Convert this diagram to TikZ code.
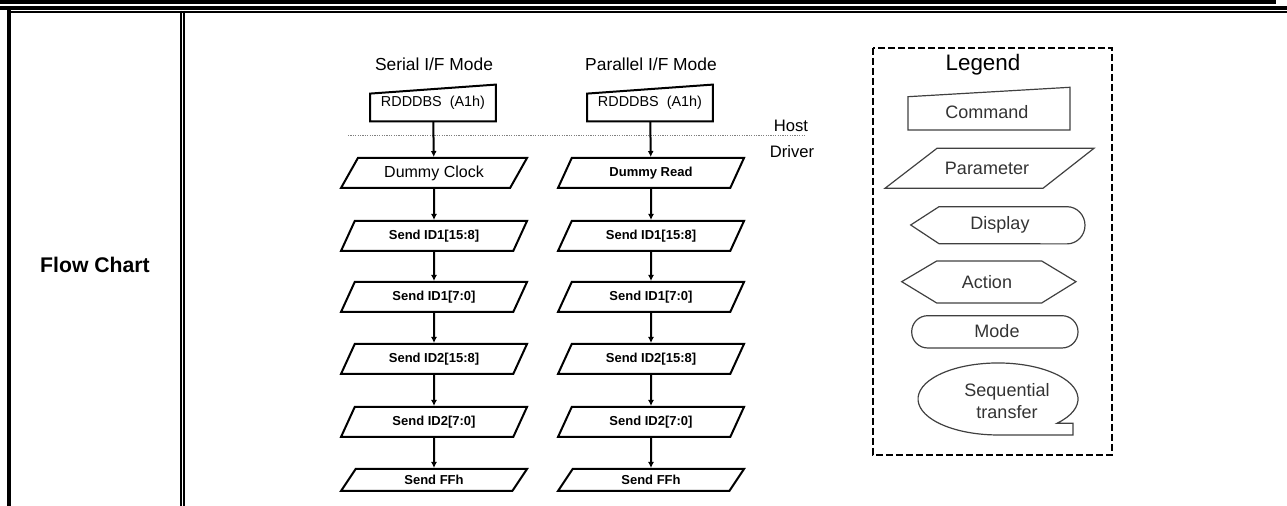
\documentclass[tikz,border=0pt]{standalone}
\usepackage{fontspec}
\setmainfont{Liberation Sans}
\usetikzlibrary{shapes.geometric}
\usetikzlibrary{arrows.meta}

\begin{document}
\begin{tikzpicture}[x=0.5pt, y=-0.5pt, >={Latex[length=3pt,width=3pt]},
  hdr/.style={font=\fontsize{8.7}{10}\selectfont, inner sep=0pt},
  cmd/.style={minimum width=62.5pt, minimum height=18pt, inner sep=0pt,
              font=\fontsize{7.2}{8}\selectfont},
  cmdline/.style={draw=black, line width=1pt},
  param/.style={trapezium, draw=black, line width=1pt,
                trapezium left angle=41.4, trapezium right angle=138.6,
                trapezium stretches body, minimum width=93pt,
                minimum height=15pt, inner sep=0pt,
                font=\bfseries\fontsize{6.5}{7}\selectfont},
  flow/.style={->, line width=1pt},
  legline/.style={draw=black!75, line width=0.6pt},
  legtext/.style={font=\fontsize{9}{11}\selectfont, text=black!80,
                  align=center, inner sep=0pt}]
  \useasboundingbox (0,0) rectangle (1287,506);
  % table frame: heavy top rules, left rule, double column rule
  \fill[black] (0,0) rectangle (1276,4);
  \draw[line width=2pt] (0,8) -- (1287,8);
  \draw[line width=0.85pt] (9,11.9) -- (1287,11.9);
  \draw[line width=1.75pt] (9,10) -- (9,506);
  \draw[line width=0.8pt] (181,11) -- (181,506);
  \draw[line width=0.8pt] (184,11) -- (184,506);
  \node[font=\bfseries\fontsize{10.6}{12}\selectfont, inner sep=0pt]
    (fc) at (95,265) {Flow Chart};
  % column titles
  \node[hdr] (serT) at (434,64) {Serial I/F Mode};
  \node[hdr] (parT) at (651,64) {Parallel I/F Mode};
  % commands
  \node[cmd] (cmdS) at (433,103) {RDDDBS\ \ (A1h)};
  \node[cmd] (cmdP) at (650,103) {RDDDBS\ \ (A1h)};
  \draw[cmdline] (cmdS.south west) -- ([yshift=-4.5pt]cmdS.north west)
    -- (cmdS.north east) -- (cmdS.south east) -- cycle;
  \draw[cmdline] (cmdP.south west) -- ([yshift=-4.5pt]cmdP.north west)
    -- (cmdP.north east) -- (cmdP.south east) -- cycle;
  % host / driver border
  \draw[gray, line width=0.5pt, dash pattern=on 0.6pt off 0.6pt]
    (348,135.7) -- (806,135.7);
  \node[font=\fontsize{8.3}{9}\selectfont, inner sep=0pt] (host) at (791,126) {Host};
  \node[font=\fontsize{8.3}{9}\selectfont, inner sep=0pt] (drv) at (792,152) {Driver};
  % serial column
  \node[param, font=\fontsize{8}{9}\selectfont] (dcS) at (434,173) {Dummy Clock};
  \node[param] (a1S) at (434,236) {Send ID1[15:8]};
  \node[param] (b1S) at (434,297) {Send ID1[7:0]};
  \node[param] (a2S) at (434,359) {Send ID2[15:8]};
  \node[param] (b2S) at (434,422) {Send ID2[7:0]};
  \node[param, minimum height=11pt, trapezium left angle=33,
        trapezium right angle=147] (ffS) at (434,480) {Send FFh};
  % parallel column
  \node[param] (drP) at (651,173) {Dummy Read};
  \node[param] (a1P) at (651,236) {Send ID1[15:8]};
  \node[param] (b1P) at (651,297) {Send ID1[7:0]};
  \node[param] (a2P) at (651,359) {Send ID2[15:8]};
  \node[param] (b2P) at (651,422) {Send ID2[7:0]};
  \node[param, minimum height=11pt, trapezium left angle=33,
        trapezium right angle=147] (ffP) at (651,480) {Send FFh};
  % sequence arrows
  \draw[flow] (cmdS) -- (dcS);
  \draw[flow] (dcS) -- (a1S);
  \draw[flow] (a1S) -- (b1S);
  \draw[flow] (b1S) -- (a2S);
  \draw[flow] (a2S) -- (b2S);
  \draw[flow] (b2S) -- (ffS);
  \draw[flow] (cmdP) -- (drP);
  \draw[flow] (drP) -- (a1P);
  \draw[flow] (a1P) -- (b1P);
  \draw[flow] (b1P) -- (a2P);
  \draw[flow] (a2P) -- (b2P);
  \draw[flow] (b2P) -- (ffP);
  % legend
  \draw[line width=1pt, dash pattern=on 3.5pt off 1.5pt]
    (873,48) rectangle (1112,455);
  \node[font=\fontsize{11.2}{13}\selectfont, inner sep=0pt] (legT) at (983,65) {Legend};
  \draw[legline] (908,96.7) -- (1070,87.3) -- (1070,130) -- (908,130) -- cycle;
  \node[legtext] (lgCmd) at (987,112) {Command};
  \draw[legline] (885,188.3) -- (937,148.3) -- (1094,148.3) -- (1043,188.3) -- cycle;
  \node[legtext] (lgPar) at (987,168) {Parameter};
  \draw[legline] (910.7,225) -- (939,206.7) -- (1067,206.7)
    arc[start angle=90, end angle=-90, x radius=9pt, y radius=9.3pt]
    -- (939,243.7) -- cycle;
  \node[legtext] (lgDsp) at (1000,225) {Display};
  \draw[legline] (901.7,281.7) -- (936.7,261) -- (1041.7,261) -- (1076,281.7)
    -- (1041.7,303) -- (936.7,303) -- cycle;
  \node[legtext] (lgAct) at (987,282) {Action};
  \draw[legline, rounded corners=8pt] (911.7,315.7) rectangle (1078,348);
  \node[legtext] (lgMod) at (997,331) {Mode};
  \draw[legline] (1057,423.3)
    arc[start angle=-42.5, end angle=270, x radius=40pt, y radius=18pt]
    -- (1073,435) -- (1073,423.3) -- cycle;
  \node[legtext, font=\fontsize{9}{11}\selectfont] (lgSeq) at (1007,401)
    {Sequential\\transfer};
\end{tikzpicture}
\end{document}
